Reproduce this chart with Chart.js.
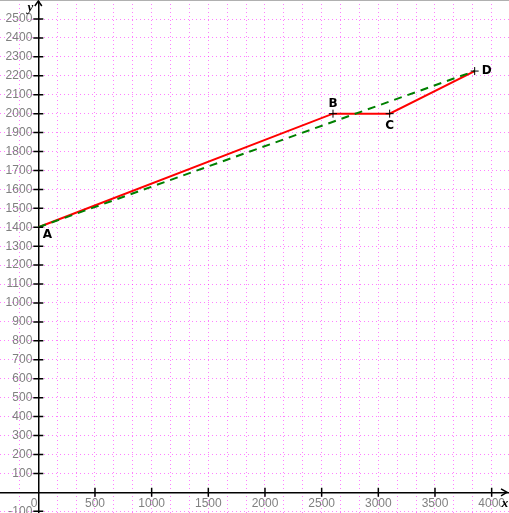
<!doctype html>
<html lang="en">
<head>
  <meta charset="utf-8">
  <title>Path A-B-C-D</title>
  <script src="https://cdn.jsdelivr.net/npm/chart.js"></script>
  <style>
    body { margin: 0; background: #fff; }
    canvas { display: block; }
  </style>
</head>
<body>
  <canvas id="chart_path" width="509" height="513"></canvas>

  <script type="text/javascript">

    // values
    const point_names = ['A', 'B', 'C', 'D'];
    const point_x = [0, 2600, 3100, 3850];
    const point_y = [1400, 2000, 2000, 2225];

    const dashed_x = [0, 3850];
    const dashed_y = [1400, 2225];

    const x_tick_labels = [500, 1000, 1500, 2000, 2500, 3000, 3500, 4000];
    const y_tick_labels = [-100, 100, 200, 300, 400, 500, 600, 700, 800, 900, 1000, 1100, 1200, 1300,
      1400, 1500, 1600, 1700, 1800, 1900, 2000, 2100, 2200, 2300, 2400, 2500];

    // visible window and grid spacing
    const x_min = -338, x_max = 4153, x_grid_step = 500 / 3;
    const y_min = -109.3, y_max = 2600.4, y_grid_step = 100;

    // where each letter sits relative to its point, in pixels
    const name_offsets = [[9, 8], [0, -10], [0, 12], [12, 0]];

    const grid_color = 'rgba(255, 0, 255, 0.5)';
    const label_color = '#808080';

    Chart.defaults.font.family = "'Liberation Sans', Arial, sans-serif";
    Chart.defaults.font.size = 12;

    const to_points = (xs, ys) => xs.map((v, i) => ({ x: v, y: ys[i] }));

    const has_value = (list, v) => list.some(t => Math.abs(t - v) < 1e-6);

    // grid line values: the window bounds first and last, then every step in between
    function grid_values(min, max, step) {
      const values = [min];
      for (let k = Math.ceil(min / step + 0.05); k * step < max - 0.5; k++) values.push(k * step);
      values.push(max);
      return values;
    }

    const overlay = {
      id: 'overlay',
      afterDraw(chart) {
        const { ctx, scales: { x, y }, chartArea: area } = chart;
        const ox = x.getPixelForValue(0);
        const oy = y.getPixelForValue(0);

        ctx.save();

        // thin frame line along the top
        ctx.fillStyle = '#b0b0b0';
        ctx.fillRect(0, 0, chart.width, 1);

        // tick marks crossing both axes
        ctx.strokeStyle = '#000';
        ctx.lineWidth = 1.5;
        ctx.beginPath();
        x_tick_labels.forEach(v => {
          const px = x.getPixelForValue(v);
          ctx.moveTo(px, oy - 4.5);
          ctx.lineTo(px, oy + 4.5);
        });
        y_tick_labels.forEach(v => {
          const py = y.getPixelForValue(v);
          ctx.moveTo(ox - 5, py);
          ctx.lineTo(ox + 5, py);
        });

        // arrow heads
        ctx.moveTo(ox - 3.5, area.top + 6);
        ctx.lineTo(ox, area.top + 1);
        ctx.lineTo(ox + 3.5, area.top + 6);
        ctx.moveTo(area.right - 8, oy - 3.5);
        ctx.lineTo(area.right - 2, oy);
        ctx.lineTo(area.right - 8, oy + 3.5);
        ctx.stroke();

        // origin label
        ctx.fillStyle = label_color;
        ctx.font = "12px 'Liberation Sans', Arial, sans-serif";
        ctx.textAlign = 'right';
        ctx.textBaseline = 'middle';
        ctx.fillText('0', ox - 1, oy + 11);

        // axis names
        ctx.fillStyle = '#000';
        ctx.font = "italic bold 13px 'Liberation Serif', serif";
        ctx.textAlign = 'center';
        ctx.fillText('y', ox - 8, area.top + 8);
        ctx.fillText('x', area.right - 4, oy + 11);

        // point names
        ctx.font = "bold 12px 'DejaVu Sans', sans-serif";
        point_names.forEach((name, i) => {
          const px = x.getPixelForValue(point_x[i]) + name_offsets[i][0];
          const py = y.getPixelForValue(point_y[i]) + name_offsets[i][1];
          ctx.fillText(name, px, py);
        });

        ctx.restore();
      }
    };

    // labels only where the picture has them; the window bounds get an empty
    // multi-line label so they take no room in the layout
    function axis_ticks(labels, min, max, suffix) {
      return {
        color: label_color,
        padding: 0,
        autoSkip: false,
        maxRotation: 0,
        callback: (v) => {
          if (v === min || v === max) return [];
          return has_value(labels, v) ? String(Math.round(v)) + suffix : '';
        }
      };
    }

    function axis_grid(min, max, tick_length) {
      return {
        color: (c) => (c.tick && (c.tick.value === min || c.tick.value === max)) ? 'rgba(0,0,0,0)' : grid_color,
        lineWidth: 1,
        drawTicks: true,
        tickLength: tick_length,
        tickColor: 'rgba(0,0,0,0)'
      };
    }

    const chart_path = new Chart(document.getElementById('chart_path'), {
      type: 'scatter',
      data: {
        datasets: [
          {
            data: to_points(point_x.slice(1), point_y.slice(1)),
            showLine: false, pointStyle: 'cross', pointRadius: 4, pointBorderWidth: 1,
            borderColor: '#000', backgroundColor: '#000', order: 0
          },
          {
            data: to_points(dashed_x, dashed_y),
            showLine: true, borderColor: '#008000', borderWidth: 2, borderDash: [8, 6],
            pointRadius: 0, order: 1
          },
          {
            data: to_points(point_x, point_y),
            showLine: true, borderColor: '#ff0000', borderWidth: 2,
            pointRadius: 0, order: 2
          }
        ]
      },
      options: {
        responsive: false,
        animation: false,
        devicePixelRatio: 1,
        layout: { padding: 0, autoPadding: false },
        plugins: { legend: { display: false }, tooltip: { enabled: false } },
        scales: {
          x: {
            type: 'linear', min: x_min, max: x_max, position: { y: 0 },
            afterBuildTicks: (scale) => { scale.ticks = grid_values(x_min, x_max, x_grid_step).map(v => ({ value: v })); },
            ticks: axis_ticks(x_tick_labels, x_min, x_max, ''),
            grid: axis_grid(x_min, x_max, 4),
            border: { color: '#000', width: 1.5, dash: [1, 3] }
          },
          y: {
            type: 'linear', min: y_min, max: y_max, position: { x: 0 },
            afterBuildTicks: (scale) => { scale.ticks = grid_values(y_min, y_max, y_grid_step).map(v => ({ value: v })); },
            ticks: axis_ticks(y_tick_labels, y_min, y_max, '\u2002'),
            grid: axis_grid(y_min, y_max, 0),
            border: { color: '#000', width: 1.5, dash: [1, 3] }
          }
        }
      },
      plugins: [overlay]
    });

  </script>
</body>
</html>
